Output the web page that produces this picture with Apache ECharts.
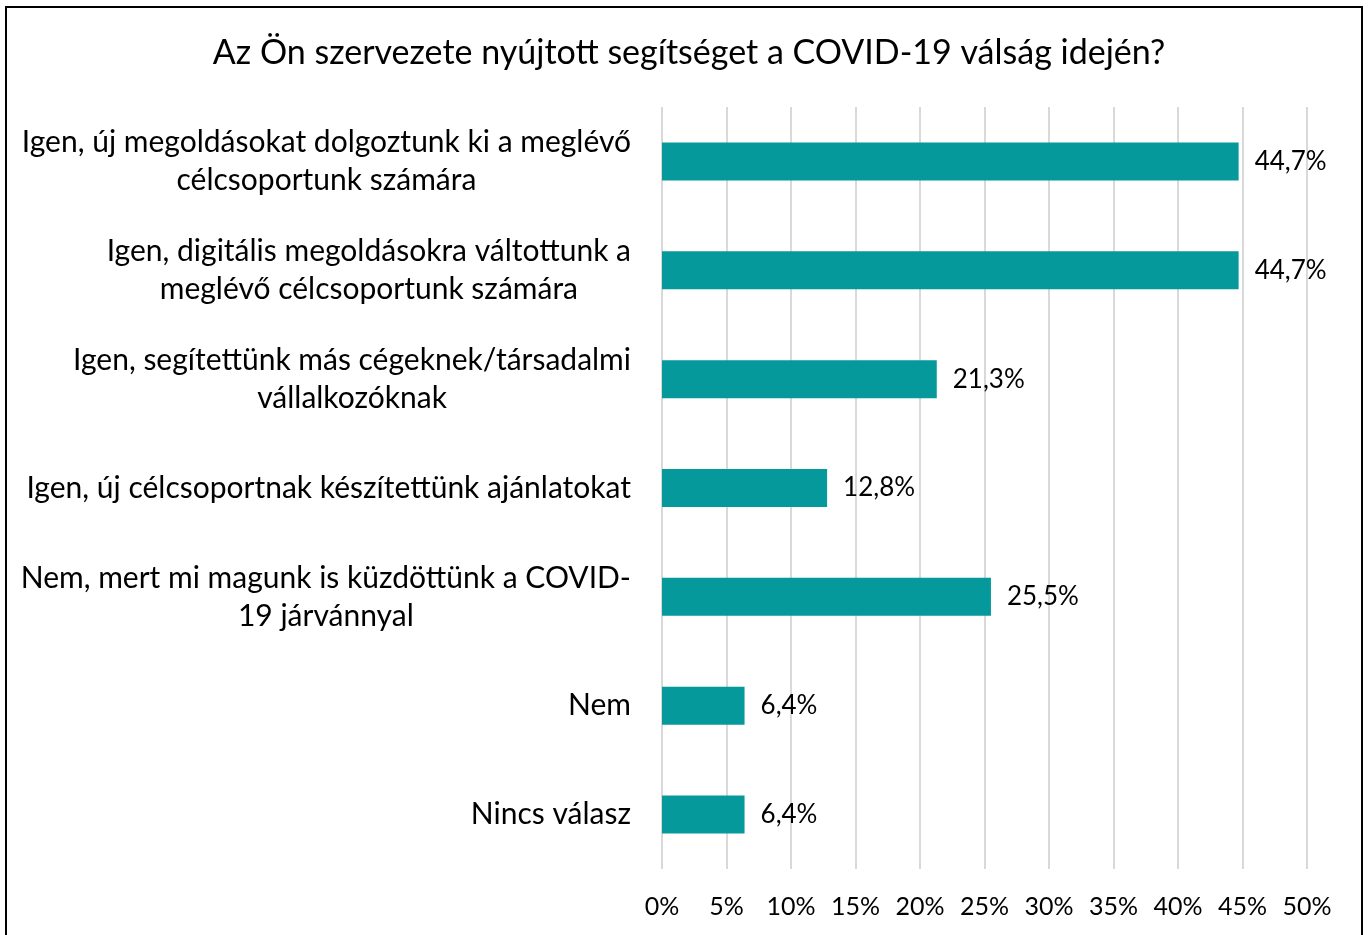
<!DOCTYPE html>
<html>
<head>
<meta charset="utf-8">
<script src="https://cdn.jsdelivr.net/npm/echarts@6/dist/echarts.min.js"></script>
<style>
html,body{margin:0;padding:0;background:#fff;}
#chart{width:1368px;height:935px;}
</style>
</head>
<body>
<div id="chart"></div>
<script>
const titleText = 'Az Ön szervezete nyújtott segítséget a COVID-19 válság idején?';
const categories = [
  'Igen, új megoldásokat dolgoztunk ki a meglévő\ncélcsoportunk számára',
  'Igen, digitális megoldásokra váltottunk a\nmeglévő célcsoportunk számára',
  'Igen, segítettünk más cégeknek/társadalmi\nvállalkozóknak',
  'Igen, új célcsoportnak készítettünk ajánlatokat',
  'Nem, mert mi magunk is küzdöttünk a COVID-\n19 járvánnyal',
  'Nem',
  'Nincs válasz'
];
const values = [44.7, 44.7, 21.3, 12.8, 25.5, 6.4, 6.4];
const axisMin = 0, axisMax = 50, axisStep = 5;

const FONT = 'Lato';
const chart = echarts.init(document.getElementById('chart'));
chart.setOption({
  animation: false,
  backgroundColor: '#fff',
  title: {
    text: titleText,
    left: 684, top: 31, textAlign: 'center',
    textStyle: {fontFamily: FONT, fontSize: 34, fontWeight: 'normal', color: '#000'}
  },
  graphic: [{
    type: 'rect', shape: {x: 6, y: 7, width: 1356, height: 940},
    style: {fill: 'none', stroke: '#000', lineWidth: 2}, silent: true
  }],
  grid: {left: 662, right: 61, top: 107, bottom: 66, containLabel: false},
  xAxis: {
    type: 'value', min: axisMin, max: axisMax, interval: axisStep,
    axisLine: {show: false}, axisTick: {show: false},
    splitLine: {lineStyle: {color: '#d9d9d9', width: 2}},
    axisLabel: {formatter: v => v + '%', fontFamily: FONT, fontSize: 25, color: '#000', margin: 25}
  },
  yAxis: {
    type: 'category', data: categories, inverse: true,
    axisLine: {show: false}, axisTick: {show: false},
    axisLabel: {
      fontFamily: FONT, fontSize: 30, color: '#000', margin: 31, lineHeight: 38, align: 'right',
      formatter: v => v.split('\n').map(l => '{c|' + l + '}').join('\n'),
      rich: {c: {align: 'center', fontFamily: FONT, fontSize: 30, color: '#000', lineHeight: 38}}
    }
  },
  series: [{
    type: 'bar', data: values, barWidth: 38,
    itemStyle: {color: '#06999C'},
    label: {
      show: true, position: 'right', distance: 16,
      formatter: p => p.value.toFixed(1).replace('.', ',') + '%',
      fontFamily: FONT, fontSize: 26, color: '#000'
    }
  }]
});
</script>
</body>
</html>
